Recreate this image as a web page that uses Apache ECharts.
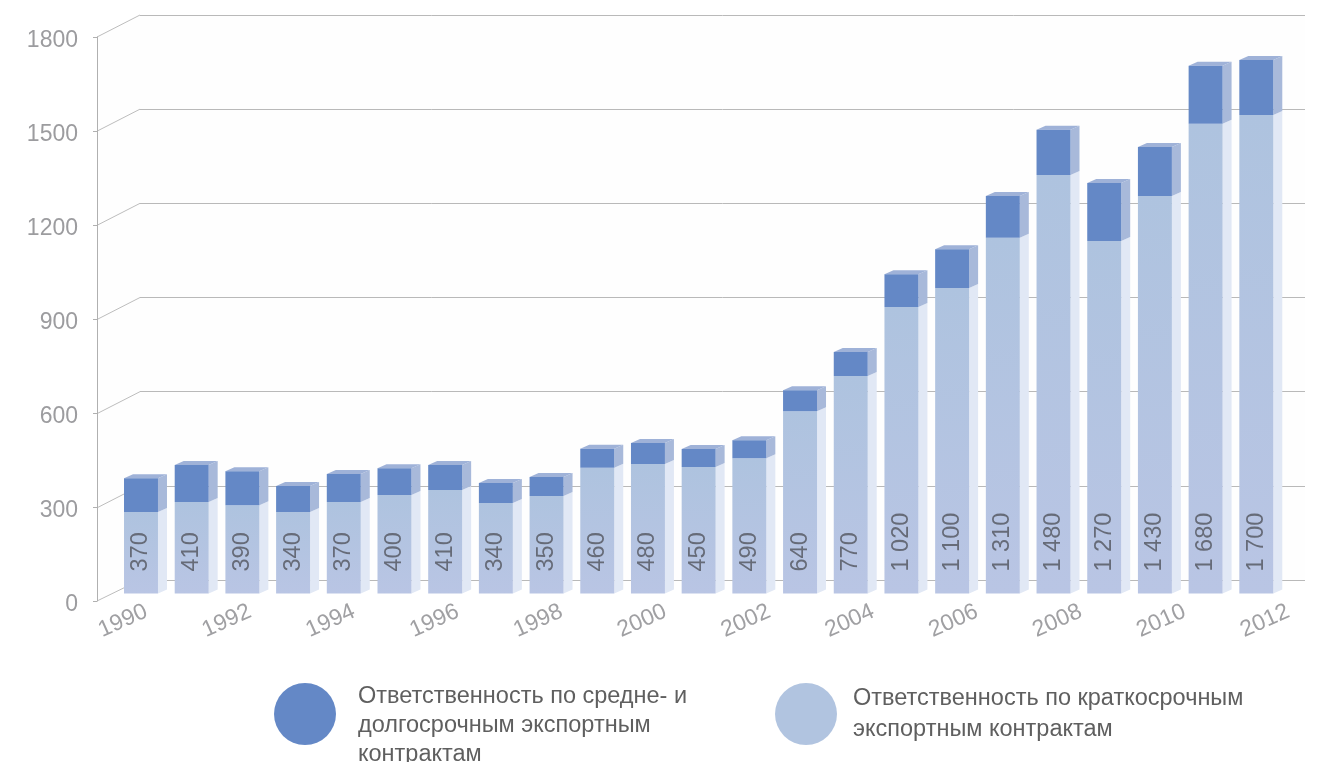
<!DOCTYPE html>
<html><head><meta charset="utf-8">
<style>html,body{margin:0;padding:0;background:#fff}#c{width:1321px;height:762px}</style>
<script src="https://cdn.jsdelivr.net/npm/echarts@6/dist/echarts.min.js"></script>
</head><body><div id="c"></div>
<script>
const years = ['1990','1991','1992','1993','1994','1995','1996','1997','1998','1999','2000','2001','2002','2003','2004','2005','2006','2007','2008','2009','2010','2011','2012'];
const shortTerm = [260,292,282,260,292,314,330,289,311,401,413,404,432,582,694,914,975,1135,1336,1125,1269,1499,1527];
const mediumLong = [108,118,108,83,89,86,80,64,61,61,67,57,57,67,77,105,124,134,144,185,156,185,176];
const barLabels = ['370','410','390','340','370','400','410','340','350','460','480','450','490','640','770','1 020','1 100','1 310','1 480','1 270','1 430','1 680','1 700'];
const yTicks = [0,300,600,900,1200,1500,1800];
const nameMedium = 'Ответственность по средне- и\nдолгосрочным экспортным\nконтрактам';
const nameShort = 'Ответственность по краткосрочным\nэкспортным контрактам';

const FONT = '"Liberation Sans", Arial, sans-serif';
const DX = 9, DY = -4;

function box(api, x0, x1, yb, yt, front, side, top){
  const kids = [];
  kids.push({type:'polygon',shape:{points:[[x1,yb],[x1+DX,yb+DY],[x1+DX,yt+DY],[x1,yt]]},style:{fill:side}});
  if (top) kids.push({type:'polygon',shape:{points:[[x0,yt],[x0+DX,yt+DY],[x1+DX,yt+DY],[x1,yt]]},style:{fill:top}});
  kids.push({type:'rect',shape:{x:x0,y:yt,width:x1-x0,height:yb-yt},style:{fill:front}});
  return kids;
}
function renderLower(params, api){
  const i = api.value(0), v = api.value(1);
  const b = api.coord([i,0]), t = api.coord([i,v]);
  const w = api.size([1,0])[0]*0.67;
  const grad = new echarts.graphic.LinearGradient(0,0,0,1,[{offset:0,color:'#aec3df'},{offset:1,color:'#b9c5e4'}]);
  const kids = box(api,b[0]-w/2,b[0]+w/2,b[1],t[1],grad,'#e1e8f5',null);
  kids.push({type:'text',x:b[0],y:b[1]-22,rotation:Math.PI/2,z2:10,
    style:{text:barLabels[i],align:'left',verticalAlign:'middle',fontFamily:FONT,fontSize:23.5,fill:'#666b78'}});
  return {type:'group',children:kids};
}
function renderUpper(params, api){
  const i = api.value(0), s = api.value(1), m = api.value(2);
  const b = api.coord([i,s]), t = api.coord([i,s+m]);
  const w = api.size([1,0])[0]*0.67;
  return {type:'group',children:box(api,b[0]-w/2,b[0]+w/2,b[1],t[1],'#6488c6','#a8b9da','#9fb2d8')};
}
function renderDiag(params, api){
  const v = api.value(0);
  const p = api.coord([0,v]);
  const kids = [];
  if (v === yTicks[yTicks.length-1]) {
    const q = api.coord([0,0]);
    kids.push({type:'polygon',z2:0,shape:{points:[p,[p[0]-43,p[1]+22],[q[0]-43,q[1]+21],q]},style:{fill:'#fefefe'}});
  }
  kids.push({type:'line',z2:1,shape:{x1:p[0],y1:p[1],x2:p[0]-43,y2:p[1]+(v?22:21)},style:{stroke:'#bdbdbd',lineWidth:1}});
  return {type:'group',children:kids};
}
const hiddenX = (g,d)=>({gridIndex:g,type:'category',data:d,show:false});
const chart = echarts.init(document.getElementById('c'));
chart.setOption({
  animation:false,
  backgroundColor:'#ffffff',
  textStyle:{fontFamily:FONT},
  grid:[
    {left:140,top:15,width:1165,height:565,show:true,backgroundColor:'#fefefe',borderWidth:0},
    {left:97,top:37,width:1194,height:564},
    {left:115.65,top:29.5,width:1166,height:564}
  ],
  xAxis:[
    {gridIndex:0,type:'value',min:0,max:1,show:false},
    {gridIndex:1,type:'category',data:years,axisLine:{show:false},axisTick:{show:false},
      axisLabel:{interval:1,rotate:24,align:'center',verticalAlign:'middle',margin:20,fontSize:23,color:'#a0a0a3',fontFamily:FONT}},
    hiddenX(2,years)
  ],
  yAxis:[
    {gridIndex:0,type:'value',min:0,max:1800,interval:300,axisLine:{show:false},axisTick:{show:false},axisLabel:{show:false},
      splitLine:{show:true,lineStyle:{color:'#b9b9b9',width:1}}},
    {gridIndex:1,type:'value',min:0,max:1800,interval:300,position:'left',z:5,
      axisLine:{show:true,lineStyle:{color:'#b0b0b0',width:1}},
      axisTick:{show:true,length:4,lineStyle:{color:'#b0b0b0'}},
      axisLabel:{margin:19,formatter:v=>'{t|'+v+'}',
        rich:{t:{fontSize:23,color:'#9c9c9f',fontFamily:FONT,padding:[7,0,0,0]}}},splitLine:{show:false}},
    {gridIndex:2,type:'value',min:0,max:1800,show:false}
  ],
  legend:[
    {left:269,top:653.5,orient:'vertical',icon:'circle',itemWidth:62,itemHeight:62,selectedMode:false,
      data:[{name:nameMedium,itemStyle:{color:'#6488c6'}}],
      formatter:n=>'{s| }\n'+n.split('\n').map(l=>'{a|'+l+'}').join('\n'),
      textStyle:{color:'#5f5f5f',fontFamily:FONT,padding:[0,0,0,17],
        rich:{s:{fontSize:10,lineHeight:24,height:24},a:{fontSize:23.5,lineHeight:29,color:'#5f5f5f',fontFamily:FONT}}}},
    {left:770,top:678,orient:'vertical',icon:'circle',itemWidth:62,itemHeight:62,selectedMode:false,
      data:[{name:nameShort,itemStyle:{color:'#b1c4e0'}}],
      textStyle:{fontSize:23.5,lineHeight:31,color:'#5f5f5f',fontFamily:FONT,padding:[0,0,0,11]}}
  ],
  series:[
    {type:'custom',name:'walls',xAxisIndex:0,yAxisIndex:0,silent:true,z:1,renderItem:renderDiag,
      encode:{y:0},data:yTicks.map(v=>[v])},
    {type:'custom',name:nameShort,xAxisIndex:2,yAxisIndex:2,z:3,renderItem:renderLower,
      encode:{x:0,y:1},itemStyle:{color:'#b1c4e0'},data:shortTerm.map((v,i)=>[i,v])},
    {type:'custom',name:nameMedium,xAxisIndex:2,yAxisIndex:2,z:4,renderItem:renderUpper,
      encode:{x:0,y:[1,2]},itemStyle:{color:'#6488c6'},data:shortTerm.map((v,i)=>[i,v,mediumLong[i]])}
  ]
});
</script></body></html>
